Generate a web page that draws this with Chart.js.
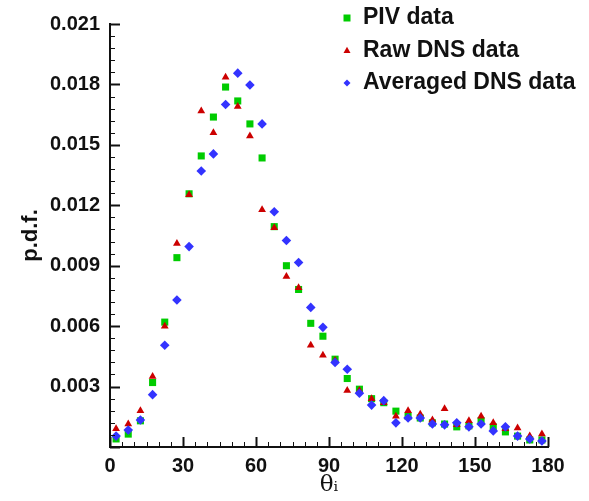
<!DOCTYPE html>
<html>
<head>
<meta charset="utf-8">
<script src="https://cdn.jsdelivr.net/npm/chart.js@4/dist/chart.umd.min.js"></script>
<style>
  html, body { margin: 0; padding: 0; background: #fff; }
  #box { width: 589px; height: 501px; }
</style>
</head>
<body>
<div id="box"><canvas id="chartCanvas" width="589" height="501"></canvas></div>
<script>
// angles (centre des classes de 5 degres)
const angles = [2.5, 7.5, 12.5, 17.5, 22.5, 27.5, 32.5, 37.5, 42.5, 47.5, 52.5, 57.5,
    62.5, 67.5, 72.5, 77.5, 82.5, 87.5, 92.5, 97.5, 102.5, 107.5, 112.5, 117.5,
    122.5, 127.5, 132.5, 137.5, 142.5, 147.5, 152.5, 157.5, 162.5, 167.5, 172.5, 177.5];

const pivData = [0.0004, 0.00064, 0.0013, 0.0032, 0.0062, 0.0094, 0.01257, 0.01445, 0.01638, 0.01787, 0.01718, 0.01604,
    0.01435, 0.01094, 0.0090, 0.00782, 0.00614, 0.0055, 0.00436, 0.0034, 0.00287, 0.0024, 0.0022, 0.00178,
    0.00153, 0.00144, 0.0012, 0.00114, 0.0010, 0.00105, 0.0013, 0.0010, 0.00075, 0.00054, 0.00035, 0.00035];

const rawDnsData = [0.0009, 0.00114, 0.0018, 0.0035, 0.0060, 0.0101, 0.01252, 0.01668, 0.0156, 0.01836, 0.0169, 0.01544,
    0.01178, 0.01089, 0.00846, 0.0079, 0.00505, 0.00455, 0.0043, 0.0028, 0.0028, 0.0024, 0.0022, 0.00153,
    0.0018, 0.00163, 0.00134, 0.0019, 0.0011, 0.0013, 0.00153, 0.0012, 0.0009, 0.00094, 0.00054, 0.00064];

const avgDnsData = [0.00054, 0.00084, 0.00134, 0.0026, 0.00505, 0.0073, 0.00995, 0.0137, 0.01455, 0.0170, 0.01856, 0.01797,
    0.01604, 0.01168, 0.01025, 0.00916, 0.00693, 0.00594, 0.0042, 0.00386, 0.00267, 0.00208, 0.0023, 0.0012,
    0.00144, 0.00144, 0.00114, 0.0011, 0.0012, 0.0010, 0.00114, 0.0008, 0.0010, 0.00054, 0.0004, 0.0003];

const seriesLabels = ['PIV data', 'Raw DNS data', 'Averaged DNS data'];
const xTicks = [0, 30, 60, 90, 120, 150, 180];
const yTicks = [0, 0.003, 0.006, 0.009, 0.012, 0.015, 0.018, 0.021];

function toPoints(values) {
    return values.map((v, i) => ({ x: angles[i], y: v }));
}

// dessiner un marqueur (legende)
function drawMarker(ctx, style, x, y, r, color) {
    ctx.fillStyle = color;
    ctx.beginPath();
    if (style === 'rect') {
        ctx.rect(x - r, y - r, 2 * r, 2 * r);
    } else if (style === 'triangle') {
        ctx.moveTo(x, y - r * 1.1);
        ctx.lineTo(x + r, y + r * 0.7);
        ctx.lineTo(x - r, y + r * 0.7);
    } else {
        ctx.moveTo(x - r, y);
        ctx.lineTo(x, y - r);
        ctx.lineTo(x + r, y);
        ctx.lineTo(x, y + r);
    }
    ctx.closePath();
    ctx.fill();
}

// graduations vers l'interieur + legende maison
const decorPlugin = {
    id: 'decor',
    afterDraw(chart) {
        const ctx = chart.ctx;
        const xs = chart.scales.x;
        const ys = chart.scales.y;
        const area = chart.chartArea;
        ctx.save();
        ctx.strokeStyle = '#111';
        // axe x
        for (let v = 0; v <= 180; v += 5) {
            const px = Math.round(xs.getPixelForValue(v)) + 0.5;
            const major = v % 30 === 0;
            ctx.lineWidth = major ? 2 : 1;
            ctx.beginPath();
            ctx.moveTo(px, area.bottom);
            ctx.lineTo(px, area.bottom - (major ? 10 : 5));
            ctx.stroke();
        }
        // axe y
        for (let k = 0; k <= 35; k++) {
            const py = Math.round(ys.getPixelForValue(k * 0.0006)) + 0.5;
            const major = k % 5 === 0;
            ctx.lineWidth = major ? 2 : 1;
            ctx.beginPath();
            ctx.moveTo(area.left, py);
            ctx.lineTo(area.left + (major ? 10 : 5), py);
            ctx.stroke();
        }
        // legende
        ctx.font = 'bold 23px "Liberation Sans", Arial, sans-serif';
        ctx.textBaseline = 'middle';
        ctx.textAlign = 'left';
        chart.data.datasets.forEach((ds, i) => {
            const y = 18 + i * 32.5;
            drawMarker(ctx, ds.pointStyle, 347, y, 3.5, ds.backgroundColor);
            ctx.fillStyle = '#111';
            ctx.fillText(ds.label, 363, y);
        });
        ctx.restore();
    }
};

const ctx = document.getElementById('chartCanvas').getContext('2d');
new Chart(ctx, {
    type: 'scatter',
    data: {
        datasets: [{
            label: seriesLabels[0],
            data: toPoints(pivData),
            pointStyle: 'rect',
            pointRadius: 5,
            backgroundColor: '#00cc00',
            borderWidth: 0,
            order: 3
        }, {
            label: seriesLabels[1],
            data: toPoints(rawDnsData),
            pointStyle: 'triangle',
            pointRadius: 4.5,
            backgroundColor: '#cc0000',
            borderWidth: 0,
            order: 2
        }, {
            label: seriesLabels[2],
            data: toPoints(avgDnsData),
            pointStyle: 'rectRot',
            pointRadius: 4.8,
            backgroundColor: '#3333ff',
            borderWidth: 0,
            order: 1
        }]
    },
    options: {
        responsive: false,
        animation: false,
        layout: { padding: { top: 24, right: 41, left: 0, bottom: 0 } },
        plugins: {
            legend: { display: false },
            tooltip: { enabled: false }
        },
        scales: {
            x: {
                type: 'linear',
                min: 0,
                max: 180,
                afterBuildTicks: s => { s.ticks = xTicks.map(v => ({ value: v })); },
                grid: { display: false, drawTicks: false },
                border: { display: true, color: '#111', width: 2 },
                ticks: {
                    color: '#111',
                    padding: 7,
                    font: { family: '"Liberation Sans", Arial, sans-serif', size: 20, weight: 'bold' }
                },
                title: {
                    display: true,
                    text: 'θᵢ',
                    color: '#111',
                    padding: { top: 0, bottom: 2 },
                    font: { family: '"DejaVu Serif", "Liberation Serif", serif', size: 23 }
                },
                afterFit: s => { s.height = 54; }
            },
            y: {
                type: 'linear',
                min: 0,
                max: 0.021,
                afterBuildTicks: s => { s.ticks = yTicks.map(v => ({ value: v })); },
                grid: { display: false, drawTicks: false },
                border: { display: true, color: '#111', width: 2 },
                ticks: {
                    color: '#111',
                    padding: 10,
                    font: { family: '"Liberation Sans", Arial, sans-serif', size: 20, weight: 'bold' },
                    callback: v => v === 0 ? '' : v.toFixed(3)
                },
                title: {
                    display: true,
                    text: 'p.d.f.',
                    color: '#111',
                    padding: { top: 18, bottom: 0 },
                    font: { family: '"Liberation Sans", Arial, sans-serif', size: 22, weight: 'bold' }
                },
                afterFit: s => { s.width = 110; }
            }
        }
    },
    plugins: [decorPlugin]
});
</script>
</body>
</html>
